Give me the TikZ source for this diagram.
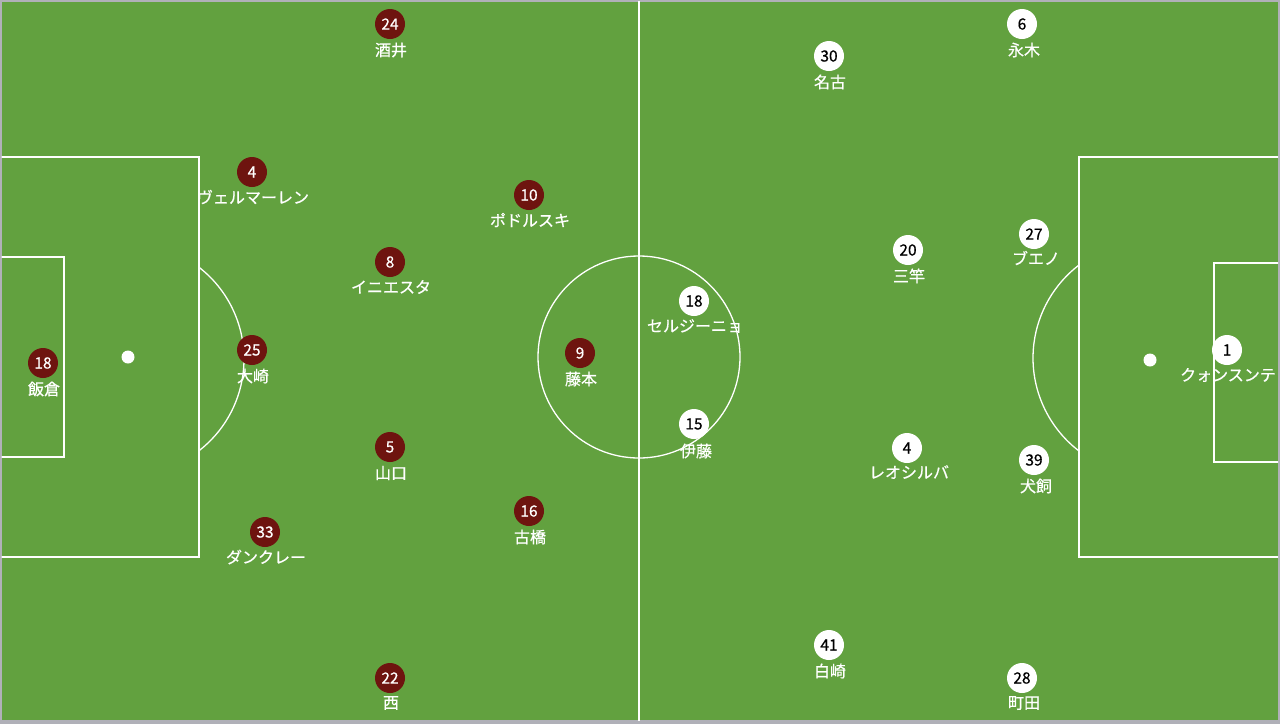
\documentclass[tikz,border=0pt]{standalone}
\usepackage{fontspec}
\newfontfamily\jp{Noto Sans CJK JP}[FakeBold=0.6]
\definecolor{pitch}{RGB}{98,161,63}
\definecolor{frame}{RGB}{176,176,184}
\definecolor{clubred}{RGB}{110,20,15}
\begin{document}
\begin{tikzpicture}[x=1pt,y=-1pt,
  fieldline/.style={draw=white, line width=1.3pt},
  redp/.style={circle, fill=clubred, minimum size=30pt, inner sep=0pt, text=white, font=\jp\fontsize{15.5}{15.5}\selectfont},
  whitep/.style={circle, fill=white, minimum size=30pt, inner sep=0pt, text=black, font=\jp\fontsize{15.5}{15.5}\selectfont},
  pname/.style={text=white, inner sep=0pt, font=\jp\fontsize{16}{16}\selectfont}]
\useasboundingbox (0,0) rectangle (1280,724);
\fill[frame] (0,0) rectangle (1280,724);
\fill[pitch] (1.5,1.5) rectangle (1278,720);
\begin{scope}
\clip (1.5,1.5) rectangle (1278,720);
% field markings
\draw[fieldline] (639,0) -- (639,724);
\draw[fieldline] (639,357) circle (101);
\draw[fieldline] (0,157) -- (199,157) -- (199,557) -- (0,557);
\draw[fieldline] (0,257) -- (64,257) -- (64,457) -- (0,457);
\draw[fieldline] (1285,157) -- (1079,157) -- (1079,557) -- (1285,557);
\draw[fieldline] (1285,263) -- (1214,263) -- (1214,462) -- (1285,462);
\fill[white] (128,357) circle (6.5);
\fill[white] (1150,360) circle (6.5);
\draw[fieldline] (128,359) ++(-52.3:116) arc (-52.3:52.3:116);
\draw[fieldline] (1150,358) ++(180-52.6:117) arc (180-52.6:180+52.6:117);
% home team
\node[redp] (h24) at (390,24) {24};
\node[pname] (h24n) at (391,50) {酒井};
\node[redp] (h4) at (252,172) {4};
\node[pname] (h4n) at (253,197) {ヴェルマーレン};
\node[redp] (h10) at (529,195) {10};
\node[pname] (h10n) at (530,220) {ポドルスキ};
\node[redp] (h8) at (390,262) {8};
\node[pname] (h8n) at (391,287) {イニエスタ};
\node[redp] (h18) at (43,363) {18};
\node[pname] (h18n) at (44,389) {飯倉};
\node[redp] (h25) at (252,350) {25};
\node[pname] (h25n) at (253,376) {大崎};
\node[redp] (h9) at (580,353) {9};
\node[pname] (h9n) at (581,379) {藤本};
\node[redp] (h5) at (390,447) {5};
\node[pname] (h5n) at (391,473) {山口};
\node[redp] (h16) at (529,511) {16};
\node[pname] (h16n) at (530,537) {古橋};
\node[redp] (h33) at (265,532) {33};
\node[pname] (h33n) at (266,557) {ダンクレー};
\node[redp] (h22) at (390,678) {22};
\node[pname] (h22n) at (391,703) {西};
% away team
\node[whitep] (a6) at (1022,24) {6};
\node[pname] (a6n) at (1024,50) {永木};
\node[whitep] (a30) at (829,56) {30};
\node[pname] (a30n) at (830,82) {名古};
\node[whitep] (a20) at (908,250) {20};
\node[pname] (a20n) at (909,276) {三竿};
\node[whitep] (a27) at (1034,234) {27};
\node[pname] (a27n) at (1036,258) {ブエノ};
\node[whitep] (a18) at (694,301) {18};
\node[pname] (a18n) at (695,326) {セルジーニョ};
\node[whitep] (a1) at (1227,350) {1};
\node[pname] (a1n) at (1228,375) {クォンスンテ};
\node[whitep] (a15) at (694,424) {15};
\node[pname] (a15n) at (696,451) {伊藤};
\node[whitep] (a4) at (907,448) {4};
\node[pname] (a4n) at (909,472) {レオシルバ};
\node[whitep] (a39) at (1034,460) {39};
\node[pname] (a39n) at (1036,486) {犬飼};
\node[whitep] (a41) at (829,645) {41};
\node[pname] (a41n) at (830,671) {白崎};
\node[whitep] (a28) at (1022,678) {28};
\node[pname] (a28n) at (1024,703) {町田};
\end{scope}
\end{tikzpicture}
\end{document}
